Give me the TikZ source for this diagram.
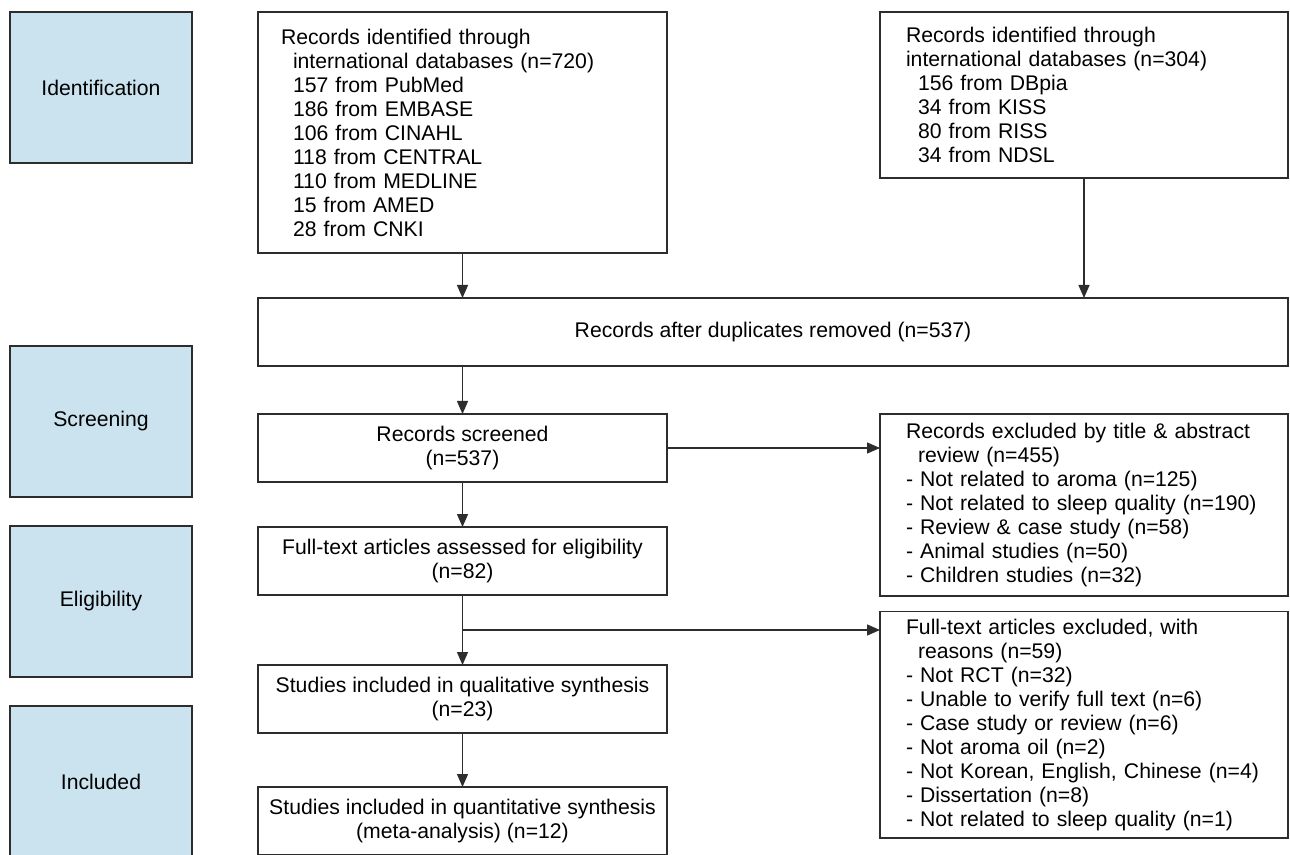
\documentclass[tikz,border=0pt]{standalone}
\usepackage{fontspec}
\setmainfont{Liberation Sans}
\usepackage{xcolor}
\usepackage{tikz}
\usetikzlibrary{arrows.meta, positioning, calc}
\definecolor{stageblue}{RGB}{202,227,238}
\definecolor{linegray}{RGB}{45,45,45}
\newcommand{\indt}{\hspace*{6pt}}
\tikzstyle{stage} = [rectangle, minimum width=91pt, minimum height=75.5pt, text centered, draw=linegray, line width=0.65pt, fill=stageblue, outer sep=0pt]
\tikzstyle{process} = [rectangle, minimum width=204.5pt, minimum height=34pt, align=center, draw=linegray, line width=0.65pt, outer sep=0pt]
\tikzstyle{listbox} = [rectangle, text width=178pt, inner xsep=13pt, inner ysep=2pt, align=left, draw=linegray, line width=0.65pt, outer sep=0pt]
\tikzstyle{arrow} = [line width=0.65pt, draw=linegray, -{Triangle[length=6.5pt,width=5.5pt]}]

\begin{document}
\begin{tikzpicture}[x=0.5pt, y=-0.5pt, every node/.style={font=\fontsize{10.6pt}{12pt}\selectfont}]
    \useasboundingbox (0,0) rectangle (1290,855);
    \clip (0,0) rectangle (1290,855);

    % Stages
    \node (ident) [stage, anchor=north west] at (10,12) {Identification};
    \node (screen) [stage, below=91.5pt of ident] {Screening};
    \node (elig) [stage, below=14.5pt of screen] {Eligibility};
    \node (incl) [stage, below=14.5pt of elig] {Included};

    % Identification
    \node (intl) [listbox, text width=181.5pt, inner xsep=11.5pt, minimum height=120.5pt, anchor=north west] at (258,12)
        {Records identified through\\
         \indt international databases (n=720)\\
         \indt 157 from PubMed\\
         \indt 186 from EMBASE\\
         \indt 106 from CINAHL\\
         \indt 118 from CENTRAL\\
         \indt 110 from MEDLINE\\
         \indt 15 from AMED\\
         \indt 28 from CNKI};
    \node (korea) [listbox, minimum height=83pt, anchor=north west] at (880,12)
        {Records identified through\\
         international databases (n=304)\\
         \indt 156 from DBpia\\
         \indt 34 from KISS\\
         \indt 80 from RISS\\
         \indt 34 from NDSL};

    % Duplicates
    \node (dup) [process, minimum width=515pt, below=22.5pt of intl.south west, anchor=north west] {Records after duplicates removed (n=537)};

    % Screening and eligibility
    \node (screened) [process, below=24pt of dup.south west, anchor=north west] {Records screened\\(n=537)};
    \node (fulltext) [process, below=22.5pt of screened] {Full-text articles assessed for eligibility\\(n=82)};
    \node (qual) [process, below=35pt of fulltext] {Studies included in qualitative synthesis\\(n=23)};
    \node (quant) [process, below=27pt of qual] {Studies included in quantitative synthesis\\(meta-analysis) (n=12)};

    % Exclusions
    \node (excl1) [listbox, minimum height=91pt, anchor=north west] at (screened.north -| korea.west)
        {Records excluded by title \& abstract\\
         \indt review (n=455)\\
         - Not related to aroma (n=125)\\
         - Not related to sleep quality (n=190)\\
         - Review \& case study (n=58)\\
         - Animal studies (n=50)\\
         - Children studies (n=32)};
    \node (excl2) [listbox, minimum height=113.25pt, below=7.75pt of excl1]
        {Full-text articles excluded, with\\
         \indt reasons (n=59)\\
         - Not RCT (n=32)\\
         - Unable to verify full text (n=6)\\
         - Case study or review (n=6)\\
         - Not aroma oil (n=2)\\
         - Not Korean, English, Chinese (n=4)\\
         - Dissertation (n=8)\\
         - Not related to sleep quality (n=1)};

    % Arrows
    \draw [arrow] (intl.south) -- (intl.south |- dup.north);
    \draw [arrow] (korea.south) -- (korea.south |- dup.north);
    \draw [arrow] (dup.south -| screened.north) -- (screened.north);
    \draw [arrow] (screened) -- (fulltext);
    \draw [arrow] (screened.east) -- (screened.east -| excl1.west);
    \draw [arrow] (fulltext) -- (qual);
    \coordinate (branch) at ($(fulltext.south)!0.5!(qual.north)$);
    \draw [arrow] (branch) -- (branch -| excl2.west);
    \draw [arrow] (qual) -- (quant);
\end{tikzpicture}
\end{document}
